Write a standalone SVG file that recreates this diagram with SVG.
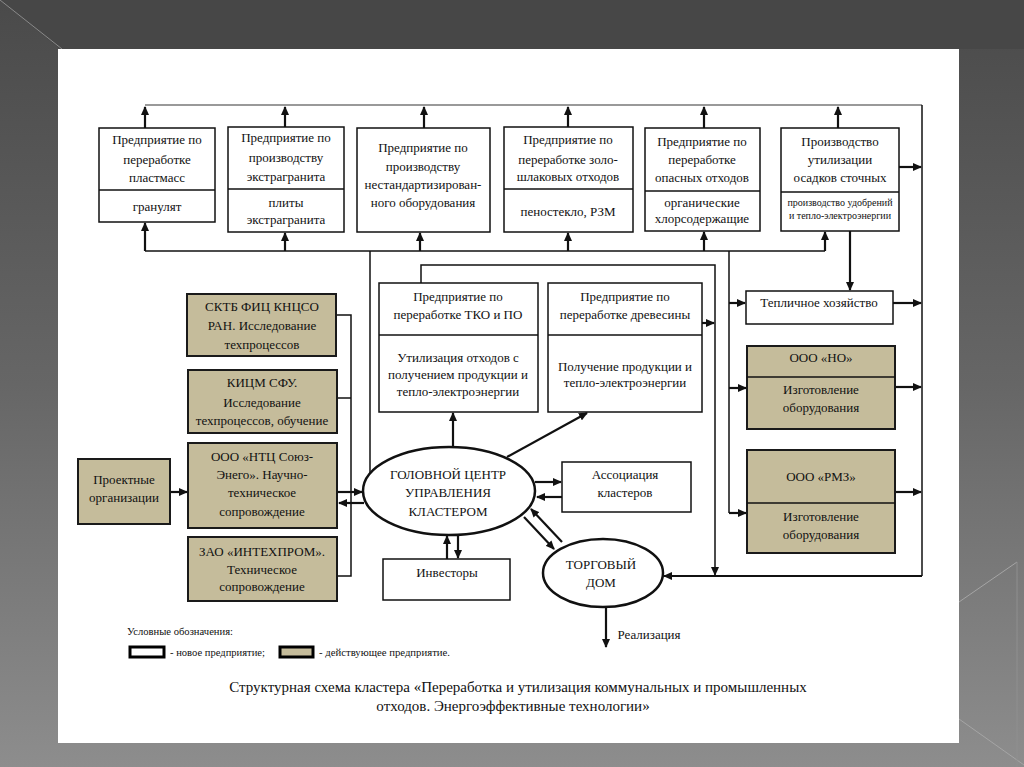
<svg xmlns="http://www.w3.org/2000/svg" width="1024" height="767" viewBox="0 0 1024 767">
<style>
.t{font-family:"Liberation Serif","Times New Roman",serif;font-size:13px;fill:#111;text-anchor:middle}
.s{font-size:10px}
.lg{font-family:"Liberation Serif","Times New Roman",serif;font-size:10.5px;fill:#111}
.ti{font-family:"Liberation Serif","Times New Roman",serif;font-size:15px;fill:#111;text-anchor:middle}
.w{fill:#fff;stroke:#111;stroke-width:1.5}
.k{fill:#c5bc9b;stroke:#1a1a1a;stroke-width:2}
.dv{stroke:#111;stroke-width:1.5}
.c{fill:none;stroke:#111;stroke-width:1.5}
.c2{fill:none;stroke:#111;stroke-width:2.2}
.g{fill:none;stroke:#777;stroke-width:1.3}
.a{marker-end:url(#ah)}
</style>
<defs>
<marker id="ah" markerUnits="userSpaceOnUse" markerWidth="9" markerHeight="8" refX="8" refY="4" orient="auto">
<path d="M0,0 L9,4 L0,8 z" fill="#111"/>
</marker>
<linearGradient id="bg" x1="0" y1="0" x2="0" y2="1">
<stop offset="0" stop-color="#4a4a4a"/>
<stop offset="0.5" stop-color="#666"/>
<stop offset="1" stop-color="#8d8d8d"/>
</linearGradient>
</defs>
<g id="background">
<rect x="0" y="0" width="1024" height="767" fill="url(#bg)"/>
<polygon points="0,0 1024,0 1024,49 60,49" fill="#474747"/>
<line x1="0" y1="0" x2="62" y2="49" stroke="#8a8a8a" stroke-width="1"/>
<line x1="959" y1="602" x2="1017" y2="562" stroke="#a5a5a5" stroke-width="1"/>
<line x1="959" y1="719" x2="1024" y2="765" stroke="#a5a5a5" stroke-width="1"/>
<line x1="1017" y1="562" x2="1017" y2="767" stroke="#8f8f8f" stroke-width="1"/>
<rect x="58" y="49" width="901" height="694" fill="#fff"/>
</g>
<g id="connectors">
<line class="g" x1="145" y1="105" x2="922" y2="105"/>
<line class="c" x1="922" y1="105" x2="922" y2="576"/>
<line class="c2 a" x1="145" y1="128" x2="145" y2="107"/>
<line class="c2 a" x1="285" y1="127" x2="285" y2="107"/>
<line class="c2 a" x1="424" y1="128" x2="424" y2="107"/>
<line class="c2 a" x1="568" y1="127" x2="568" y2="107"/>
<line class="c2 a" x1="704" y1="128" x2="704" y2="107"/>
<line class="c2 a" x1="838" y1="128" x2="838" y2="107"/>
<line class="c" x1="145" y1="251" x2="825" y2="251"/>
<line class="c2 a" x1="145" y1="251" x2="145" y2="223"/>
<line class="c2 a" x1="285" y1="251" x2="285" y2="233"/>
<line class="c2 a" x1="420" y1="251" x2="420" y2="233"/>
<line class="c2 a" x1="568" y1="251" x2="568" y2="233"/>
<line class="c2 a" x1="704" y1="251" x2="704" y2="232"/>
<line class="c2 a" x1="825" y1="251" x2="825" y2="232"/>
<line class="c2 a" x1="850" y1="231" x2="850" y2="290"/>
<line class="c2 a" x1="899" y1="167" x2="921" y2="167"/>
<line class="c" x1="370" y1="251" x2="370" y2="473"/>
<line class="c" x1="729" y1="251" x2="729" y2="513"/>
<line class="c2 a" x1="729" y1="303" x2="745" y2="303"/>
<line class="c2 a" x1="729" y1="388" x2="746" y2="388"/>
<line class="c2 a" x1="729" y1="513" x2="746" y2="513"/>
<line class="c2 a" x1="893" y1="303" x2="921" y2="303"/>
<line class="c2 a" x1="895" y1="387" x2="921" y2="387"/>
<line class="c2 a" x1="895" y1="492" x2="921" y2="492"/>
<line class="c2 a" x1="922" y1="576" x2="664" y2="576"/>
<polyline class="c a" points="421,283 421,265 715,265 715,575"/>
<line class="c2 a" x1="702" y1="323" x2="714" y2="323"/>
<polyline class="c" points="336,315 351,315 351,576 337,576"/>
<line class="c" x1="337" y1="398" x2="351" y2="398"/>
<line class="c2 a" x1="170" y1="492" x2="187" y2="492"/>
<line class="c2 a" x1="337" y1="492" x2="362" y2="492"/>
<line class="c2 a" x1="364" y1="503" x2="339" y2="503"/>
<line class="c2 a" x1="535" y1="482" x2="561" y2="482"/>
<line class="c2 a" x1="562" y1="497" x2="537" y2="497"/>
<line class="c2 a" x1="453" y1="447" x2="453" y2="413"/>
<line class="c2 a" x1="507" y1="457" x2="587" y2="413"/>
<line class="c2 a" x1="447" y1="559" x2="447" y2="536"/>
<line class="c2 a" x1="458" y1="535" x2="458" y2="558"/>
<line class="c2 a" x1="524" y1="517" x2="554" y2="549"/>
<line class="c2 a" x1="562" y1="542" x2="531" y2="509"/>
<line class="c2 a" x1="606" y1="607" x2="606" y2="647"/>
</g>
<g id="n-plast">
<rect class="w" x="99" y="128" width="116" height="94"/>
<line class="dv" x1="99" y1="190" x2="215" y2="190"/>
<text class="t" x="157" y="144">Предприятие по</text>
<text class="t" x="157" y="164">переработке</text>
<text class="t" x="157" y="182">пластмасс</text>
<text class="t" x="157" y="211">гранулят</text>
</g>
<g id="n-granit">
<rect class="w" x="228" y="127" width="116" height="105"/>
<line class="dv" x1="228" y1="189" x2="344" y2="189"/>
<text class="t" x="286" y="142">Предприятие по</text>
<text class="t" x="286" y="162">производству</text>
<text class="t" x="286" y="181">экстрагранита</text>
<text class="t" x="286" y="207">плиты</text>
<text class="t" x="286" y="224">экстрагранита</text>
</g>
<g id="n-oborud">
<rect class="w" x="357" y="128" width="133" height="104"/>
<text class="t" x="423" y="152">Предприятие по</text>
<text class="t" x="423" y="171">производству</text>
<text class="t" x="423" y="189">нестандартизирован-</text>
<text class="t" x="423" y="207">ного оборудования</text>
</g>
<g id="n-zolo">
<rect class="w" x="504" y="127" width="129" height="105"/>
<line class="dv" x1="504" y1="189" x2="633" y2="189"/>
<text class="t" x="568" y="144">Предприятие по</text>
<text class="t" x="568" y="164">переработке золо-</text>
<text class="t" x="568" y="181">шлаковых отходов</text>
<text class="t" x="568" y="216">пеностекло, РЗМ</text>
</g>
<g id="n-opasn">
<rect class="w" x="645" y="128" width="115" height="103"/>
<line class="dv" x1="645" y1="191" x2="760" y2="191"/>
<text class="t" x="702" y="146">Предприятие по</text>
<text class="t" x="702" y="164">переработке</text>
<text class="t" x="702" y="182">опасных отходов</text>
<text class="t" x="702" y="207">органические</text>
<text class="t" x="702" y="223">хлорсодержащие</text>
</g>
<g id="n-osadki">
<rect class="w" x="781" y="128" width="118" height="103"/>
<line class="dv" x1="781" y1="192" x2="899" y2="192"/>
<text class="t" x="840" y="146">Производство</text>
<text class="t" x="840" y="164">утилизации</text>
<text class="t" x="840" y="182">осадков сточных</text>
<text class="t s" x="840" y="206">производство удобрений</text>
<text class="t s" x="840" y="219">и тепло-электроэнергии</text>
</g>
<g id="n-tko">
<rect class="w" x="379" y="283" width="159" height="129"/>
<line class="dv" x1="379" y1="335" x2="538" y2="335"/>
<text class="t" x="458" y="301">Предприятие по</text>
<text class="t" x="458" y="319">переработке ТКО и ПО</text>
<text class="t" x="458" y="362">Утилизация отходов с</text>
<text class="t" x="458" y="379">получением продукции и</text>
<text class="t" x="458" y="396">тепло-электроэнергии</text>
</g>
<g id="n-drev">
<rect class="w" x="548" y="283" width="154" height="129"/>
<line class="dv" x1="548" y1="335" x2="702" y2="335"/>
<text class="t" x="625" y="301">Предприятие по</text>
<text class="t" x="625" y="319">переработке древесины</text>
<text class="t" x="625" y="371">Получение продукции и</text>
<text class="t" x="625" y="387">тепло-электроэнергии</text>
</g>
<g id="n-sktb">
<rect class="k" x="187" y="294" width="149" height="62"/>
<text class="t" x="262" y="311">СКТБ ФИЦ КНЦСО</text>
<text class="t" x="262" y="330">РАН. Исследование</text>
<text class="t" x="262" y="349">техпроцессов</text>
</g>
<g id="n-kicm">
<rect class="k" x="188" y="370" width="149" height="63"/>
<text class="t" x="262" y="387">КИЦМ СФУ.</text>
<text class="t" x="262" y="407">Исследование</text>
<text class="t" x="262" y="425">техпроцессов, обучение</text>
</g>
<g id="n-proekt">
<rect class="k" x="78" y="459" width="92" height="65"/>
<text class="t" x="124" y="484">Проектные</text>
<text class="t" x="124" y="502">организации</text>
</g>
<g id="n-ntc">
<rect class="k" x="188" y="443" width="149" height="85"/>
<text class="t" x="262" y="461">ООО «НТЦ Союз-</text>
<text class="t" x="262" y="479">Энего». Научно-</text>
<text class="t" x="262" y="497">техническое</text>
<text class="t" x="262" y="516">сопровождение</text>
</g>
<g id="n-intexprom">
<rect class="k" x="188" y="537" width="149" height="64"/>
<text class="t" x="262" y="556">ЗАО «ИНТЕХПРОМ».</text>
<text class="t" x="262" y="574">Техническое</text>
<text class="t" x="262" y="591">сопровождение</text>
</g>
<g id="n-center">
<ellipse cx="449" cy="491" rx="86" ry="44" fill="#fff" stroke="#111" stroke-width="2.5"/>
<text class="t" x="448" y="479">ГОЛОВНОЙ ЦЕНТР</text>
<text class="t" x="448" y="497">УПРАВЛЕНИЯ</text>
<text class="t" x="448" y="516">КЛАСТЕРОМ</text>
</g>
<g id="n-assoc">
<rect class="w" x="562" y="462" width="129" height="50"/>
<text class="t" x="625" y="479">Ассоциация</text>
<text class="t" x="625" y="497">кластеров</text>
</g>
<g id="n-invest">
<rect class="w" x="383" y="559" width="127" height="41"/>
<text class="t" x="447" y="577">Инвесторы</text>
</g>
<g id="n-td">
<ellipse cx="603" cy="573" rx="60" ry="34" fill="#fff" stroke="#111" stroke-width="2.5"/>
<text class="t" x="601" y="569">ТОРГОВЫЙ</text>
<text class="t" x="601" y="587">ДОМ</text>
</g>
<text class="t" x="649" y="639">Реализация</text>
<g id="n-teplica">
<rect class="w" x="746" y="291" width="147" height="33"/>
<text class="t" x="819" y="307">Тепличное хозяйство</text>
</g>
<g id="n-no">
<rect class="k" x="747" y="346" width="148" height="83"/>
<line class="dv" x1="747" y1="377" x2="895" y2="377"/>
<text class="t" x="821" y="362">ООО «НО»</text>
<text class="t" x="821" y="394">Изготовление</text>
<text class="t" x="821" y="412">оборудования</text>
</g>
<g id="n-rmz">
<rect class="k" x="747" y="450" width="148" height="103"/>
<line class="dv" x1="747" y1="503" x2="895" y2="503"/>
<text class="t" x="821" y="481">ООО «РМЗ»</text>
<text class="t" x="821" y="521">Изготовление</text>
<text class="t" x="821" y="539">оборудования</text>
</g>
<g id="legend">
<text class="lg" x="127" y="635" textLength="106" lengthAdjust="spacingAndGlyphs">Условные обозначения:</text>
<rect x="130" y="647" width="34" height="10" fill="#fff" stroke="#000" stroke-width="3"/>
<text class="lg" x="170" y="656" textLength="95" lengthAdjust="spacingAndGlyphs">- новое предприятие;</text>
<rect x="280" y="647" width="33" height="10" fill="#c5bc9b" stroke="#000" stroke-width="3"/>
<text class="lg" x="319" y="656" textLength="131" lengthAdjust="spacingAndGlyphs">- действующее предприятие.</text>
</g>
<g id="caption">
<text class="ti" x="518" y="692">Структурная схема кластера «Переработка и утилизация коммунальных и промышленных</text>
<text class="ti" x="513" y="711">отходов. Энергоэффективные технологии»</text>
</g>
</svg>
